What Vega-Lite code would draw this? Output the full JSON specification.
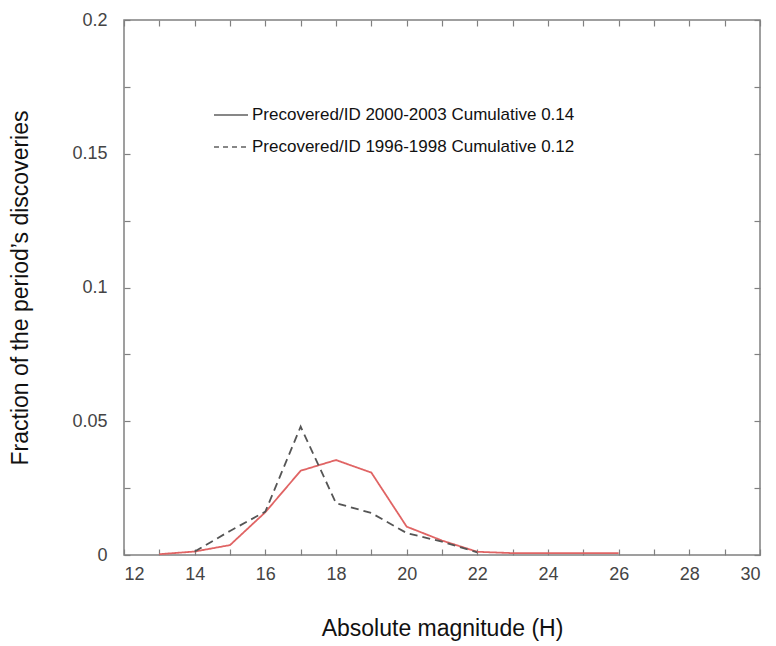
{
  "$schema": "https://vega.github.io/schema/vega-lite/v6.json",
  "width": 636,
  "height": 535,
  "autosize": {"type": "none"},
  "padding": {"left": 124, "top": 20, "right": 16, "bottom": 91},
  "background": "white",
  "config": {
    "view": {"stroke": "#808080", "strokeWidth": 1.5},
    "font": "Liberation Sans",
    "axis": {"grid": false, "domain": false, "tickColor": "#808080", "tickWidth": 1.2}
  },
  "data": {
    "values": [
      {"H": 13, "frac": 0.0003, "series": "Precovered/ID 2000-2003 Cumulative 0.14"},
      {"H": 14, "frac": 0.0013, "series": "Precovered/ID 2000-2003 Cumulative 0.14"},
      {"H": 15, "frac": 0.0037, "series": "Precovered/ID 2000-2003 Cumulative 0.14"},
      {"H": 16, "frac": 0.016, "series": "Precovered/ID 2000-2003 Cumulative 0.14"},
      {"H": 17, "frac": 0.0315, "series": "Precovered/ID 2000-2003 Cumulative 0.14"},
      {"H": 18, "frac": 0.0355, "series": "Precovered/ID 2000-2003 Cumulative 0.14"},
      {"H": 19, "frac": 0.0308, "series": "Precovered/ID 2000-2003 Cumulative 0.14"},
      {"H": 20, "frac": 0.0106, "series": "Precovered/ID 2000-2003 Cumulative 0.14"},
      {"H": 21, "frac": 0.0054, "series": "Precovered/ID 2000-2003 Cumulative 0.14"},
      {"H": 22, "frac": 0.0012, "series": "Precovered/ID 2000-2003 Cumulative 0.14"},
      {"H": 23, "frac": 0.0007, "series": "Precovered/ID 2000-2003 Cumulative 0.14"},
      {"H": 24, "frac": 0.0007, "series": "Precovered/ID 2000-2003 Cumulative 0.14"},
      {"H": 25, "frac": 0.0007, "series": "Precovered/ID 2000-2003 Cumulative 0.14"},
      {"H": 26, "frac": 0.0007, "series": "Precovered/ID 2000-2003 Cumulative 0.14"},
      {"H": 14, "frac": 0.0013, "series": "Precovered/ID 1996-1998 Cumulative 0.12"},
      {"H": 15, "frac": 0.009, "series": "Precovered/ID 1996-1998 Cumulative 0.12"},
      {"H": 16, "frac": 0.0162, "series": "Precovered/ID 1996-1998 Cumulative 0.12"},
      {"H": 17, "frac": 0.048, "series": "Precovered/ID 1996-1998 Cumulative 0.12"},
      {"H": 18, "frac": 0.0194, "series": "Precovered/ID 1996-1998 Cumulative 0.12"},
      {"H": 19, "frac": 0.0157, "series": "Precovered/ID 1996-1998 Cumulative 0.12"},
      {"H": 20, "frac": 0.0082, "series": "Precovered/ID 1996-1998 Cumulative 0.12"},
      {"H": 21, "frac": 0.005, "series": "Precovered/ID 1996-1998 Cumulative 0.12"},
      {"H": 22, "frac": 0.001, "series": "Precovered/ID 1996-1998 Cumulative 0.12"}
    ]
  },
  "layer": [
    {
      "mark": {"type": "line", "strokeWidth": 1.8},
      "encoding": {
        "x": {
          "field": "H",
          "type": "quantitative",
          "scale": {"domain": [12, 30], "nice": false, "zero": false},
          "axis": {
            "title": "Absolute magnitude (H)",
            "titleFontSize": 23,
            "titleFontWeight": "normal",
            "titleColor": "#111",
            "titleBaseline": "middle",
            "titleY": 73,
            "values": [12,13,14,15,16,17,18,19,20,21,22,23,24,25,26,27,28,29,30],
            "labelExpr": "datum.value % 2 == 0 ? datum.label : ''",
            "labelFontSize": 18,
            "labelColor": "#444",
            "labelPadding": 16,
            "tickSize": -6
          }
        },
        "y": {
          "field": "frac",
          "type": "quantitative",
          "scale": {"domain": [0, 0.2], "nice": false},
          "axis": {
            "title": "Fraction of the period’s discoveries",
            "titleFontSize": 23,
            "titleFontWeight": "normal",
            "titleColor": "#111",
            "titleBaseline": "middle",
            "titleX": -104,
            "values": [0, 0.025, 0.05, 0.075, 0.1, 0.125, 0.15, 0.175, 0.2],
            "labelExpr": "round(datum.value * 1000) % 50 == 0 ? format(datum.value, '~g') : ''",
            "labelFontSize": 18,
            "labelColor": "#444",
            "labelPadding": 23,
            "tickSize": -6
          }
        },
        "color": {
          "field": "series",
          "type": "nominal",
          "scale": {
            "domain": ["Precovered/ID 2000-2003 Cumulative 0.14", "Precovered/ID 1996-1998 Cumulative 0.12"],
            "range": ["#e06464", "#555555"]
          },
          "legend": null
        },
        "strokeDash": {
          "field": "series",
          "type": "nominal",
          "scale": {
            "domain": ["Precovered/ID 2000-2003 Cumulative 0.14", "Precovered/ID 1996-1998 Cumulative 0.12"],
            "range": [[1, 0], [8, 5]]
          },
          "legend": null
        }
      }
    },
    {
      "mark": {"type": "line", "color": "#111", "strokeOpacity": 0},
      "encoding": {
        "x": {
          "field": "H",
          "type": "quantitative",
          "axis": {
            "orient": "top",
            "title": null,
            "labels": false,
            "values": [12,13,14,15,16,17,18,19,20,21,22,23,24,25,26,27,28,29,30],
            "tickSize": -6
          }
        },
        "y": {
          "field": "frac",
          "type": "quantitative",
          "axis": {
            "orient": "right",
            "title": null,
            "labels": false,
            "values": [0, 0.025, 0.05, 0.075, 0.1, 0.125, 0.15, 0.175, 0.2],
            "tickSize": -6
          }
        },
        "strokeDash": {
          "field": "series",
          "type": "nominal",
          "scale": {
            "domain": ["Precovered/ID 2000-2003 Cumulative 0.14", "Precovered/ID 1996-1998 Cumulative 0.12"],
            "range": [[1, 0], [5, 4]]
          },
          "legend": {
            "orient": "none",
            "legendX": 89,
            "legendY": 77,
            "title": null,
            "symbolType": "stroke",
            "symbolSize": 1156,
            "symbolStrokeWidth": 1.2,
            "symbolStrokeColor": "#111",
            "symbolOpacity": 1,
            "labelFontSize": 17,
            "labelColor": "#111",
            "labelOffset": 3,
            "labelLimit": 600,
            "rowPadding": 6
          }
        }
      }
    }
  ],
  "resolve": {
    "axis": {"x": "independent", "y": "independent"},
    "scale": {"strokeDash": "independent"}
  }
}
